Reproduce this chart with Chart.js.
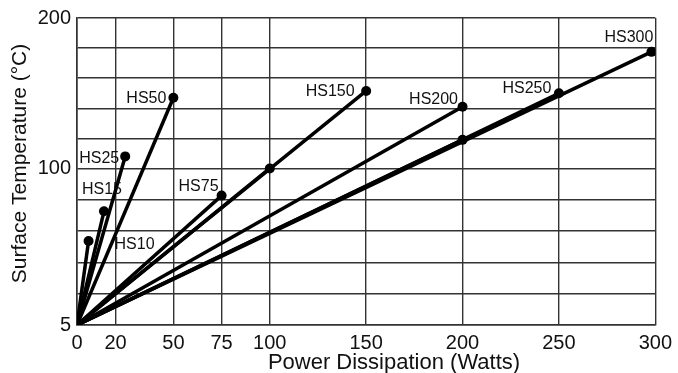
<!DOCTYPE html>
<html>
<head>
<meta charset="utf-8">
<title>Surface Temperature vs Power Dissipation</title>
<script src="https://cdn.jsdelivr.net/npm/chart.js@4.4.1/dist/chart.umd.min.js"></script>
<style>
  html, body { margin: 0; padding: 0; background: #fff; }
  #wrap { position: relative; width: 678px; height: 373px; }
</style>
</head>
<body>
<div id="wrap"><canvas id="chart"></canvas></div>
<script>
/* ── DATA ─────────────────────────────────────────────── */

// every curve starts at 0 W / ambient
const AMBIENT_TEMP = 5;

// end point of each resistor line (blank name = unlabelled dot)
const NAMES = ['HS10', 'HS15', 'HS25', 'HS50', 'HS75', '', 'HS150', 'HS200', '', 'HS250', 'HS300'];
const WATTS = [6, 14, 25, 50, 75, 100, 150, 200, 200, 250, 298];
const TEMPS = [56, 74, 108, 147, 83.5, 100, 151.5, 141, 119, 150, 177.5];

const X_TICKS = [0, 20, 50, 75, 100, 150, 200, 250, 300];
const Y_GRID = [5, 24, 43, 62, 81, 100, 120, 140, 160, 180, 200];
const Y_LABELS = [5, 100, 200];

// label offset from its dot, in px
const LABEL_OFFSETS = [
  [46, 4], [-2, -22], [-26, 2], [-27, 1], [-23, -9.5], null,
  [-36, 1], [-29, -7], null, [-32, -5], [-22.5, -14],
];

const FONT = '"Liberation Sans", Arial, Helvetica, sans-serif';

// ── y axis: the printed grid is a bit taller below 100 than above ──
const Y_KNEE = 100;
const KNEE_FRAC = 0.51;

class KneeScale extends Chart.LinearScale {
  static id = 'knee';
  getPixelForValue(value) {
    if (value === null || value === undefined) return NaN;
    let d;
    if (value <= Y_KNEE) d = (value - this.min) / (Y_KNEE - this.min) * KNEE_FRAC;
    else d = KNEE_FRAC + (value - Y_KNEE) / (this.max - Y_KNEE) * (1 - KNEE_FRAC);
    return this.getPixelForDecimal(d);
  }
  getValueForPixel(pixel) {
    const d = this.getDecimalForPixel(pixel);
    if (d <= KNEE_FRAC) return this.min + d / KNEE_FRAC * (Y_KNEE - this.min);
    return Y_KNEE + (d - KNEE_FRAC) / (1 - KNEE_FRAC) * (this.max - Y_KNEE);
  }
}
Chart.register(KneeScale);

// ── LABELS + AXIS TITLES ─────────────────────────────────

const annotate = {
  id: 'annotate',
  afterDatasetsDraw(chart) {
    const { ctx } = chart;
    ctx.save();
    ctx.fillStyle = '#111';
    ctx.textAlign = 'center';
    ctx.textBaseline = 'middle';
    ctx.font = '16px ' + FONT;
    chart.data.datasets.forEach((ds, i) => {
      const off = LABEL_OFFSETS[i];
      if (!ds.label || !off) return;
      const pts = chart.getDatasetMeta(i).data;
      const pt = pts[pts.length - 1];
      ctx.fillText(ds.label, pt.x + off[0], pt.y + off[1]);
    });

    ctx.font = '22px ' + FONT;
    ctx.textBaseline = 'alphabetic';
    ctx.fillText('Power Dissipation (Watts)', 394, 369);

    ctx.translate(26, 163.5);
    ctx.rotate(-Math.PI / 2);
    ctx.font = '21px ' + FONT;
    ctx.fillText('Surface Temperature (°C)', 0, 0);
    ctx.restore();
  }
};

// ── CHART ────────────────────────────────────────────────

const datasets = NAMES.map((name, i) => ({
  label: name,
  data: [{ x: 0, y: AMBIENT_TEMP }, { x: WATTS[i], y: TEMPS[i] }],
  borderColor: '#000',
  borderWidth: 3.5,
  backgroundColor: '#000',
  pointRadius: [0, 5],
  pointBorderWidth: 0,
  pointHoverRadius: 5,
  tension: 0,
  fill: false,
}));

new Chart(document.getElementById('chart'), {
  type: 'line',
  data: { datasets },
  options: {
    responsive: true,
    maintainAspectRatio: false,
    animation: false,
    layout: { padding: { left: 0, top: 17, right: 19, bottom: 0 } },
    plugins: { legend: { display: false }, tooltip: { enabled: false } },
    scales: {
      x: {
        type: 'linear',
        min: 0,
        max: 300,
        afterBuildTicks: (s) => { s.ticks = X_TICKS.map(v => ({ value: v })); },
        afterFit: (s) => { s.height = 48; },
        grid: { color: '#333', lineWidth: 1.4, drawTicks: false },
        border: { color: '#333', width: 1.6 },
        ticks: {
          autoSkip: false,
          maxRotation: 0,
          padding: 6,
          color: '#111',
          font: { family: FONT, size: 20 },
        },
      },
      y: {
        type: 'knee',
        min: 5,
        max: 200,
        afterBuildTicks: (s) => { s.ticks = Y_GRID.map(v => ({ value: v })); },
        afterFit: (s) => { s.width = 77; },
        grid: { color: '#333', lineWidth: 1.4, drawTicks: false },
        border: { color: '#333', width: 1.6 },
        ticks: {
          autoSkip: false,
          padding: 6,
          color: '#111',
          font: { family: FONT, size: 20 },
          callback: (v) => Y_LABELS.includes(v) ? String(v) : '',
        },
      },
    },
  },
  plugins: [annotate],
});
</script>
</body>
</html>
